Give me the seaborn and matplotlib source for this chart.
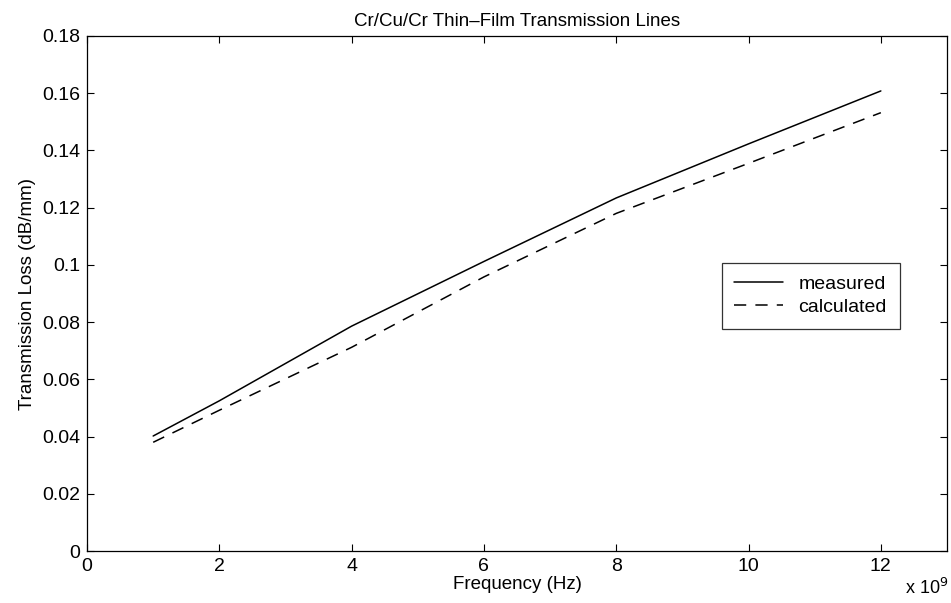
import pandas as pd
import numpy as np
import matplotlib
matplotlib.use('Agg')
import matplotlib.pyplot as plt
import seaborn as sns

# Data (frequency in units of 1e9 Hz)
freq = [1, 2, 4, 6, 8, 10, 12]
measured = [0.0402, 0.0525, 0.0786, 0.1012, 0.1234, 0.1423, 0.1608]
calculated = [0.0380, 0.0492, 0.0712, 0.0958, 0.1180, 0.1355, 0.1532]

df = pd.concat([
    pd.DataFrame({'Frequency': freq, 'Loss': measured, 'Series': 'measured'}),
    pd.DataFrame({'Frequency': freq, 'Loss': calculated, 'Series': 'calculated'}),
])

sns.set_style('ticks', {'text.color': 'black', 'axes.labelcolor': 'black',
                        'xtick.color': 'black', 'ytick.color': 'black'})
plt.rcParams['font.family'] = ['Liberation Sans', 'DejaVu Sans']

fig = plt.figure(figsize=(9.51, 6.03), dpi=100)
ax = fig.add_axes([0.0915, 0.0862, 0.9043, 0.8541])

sns.lineplot(data=df, x='Frequency', y='Loss', style='Series',
             dashes={'measured': '', 'calculated': (8, 6)},
             color='black', linewidth=1.1, ax=ax)

ax.set_xlim(0, 13)
ax.set_ylim(0, 0.18)
ax.set_xticks(np.arange(0, 13, 2))
ax.set_yticks(np.arange(0, 0.19, 0.02))
ax.set_yticklabels(['0', '0.02', '0.04', '0.06', '0.08', '0.1', '0.12',
                    '0.14', '0.16', '0.18'])
ax.tick_params(direction='in', top=True, right=True, labelsize=14,
               length=5, width=0.8, colors='black', pad=5)
for s in ax.spines.values():
    s.set_linewidth(0.9)
    s.set_color('black')

ax.set_title('Cr/Cu/Cr Thin\u2013Film Transmission Lines', fontsize=13.5,
             pad=7, color='black')
ax.set_xlabel('Frequency (Hz)', fontsize=13.5, labelpad=1, color='black')
ax.set_ylabel('Transmission Loss (dB/mm)', fontsize=13.5, labelpad=4,
              color='black')
fig.text(0.997, 0.008, r'x 10$^{9}$', fontsize=13, ha='right', va='bottom')

leg = ax.legend(loc='upper left', bbox_to_anchor=(0.738, 0.560),
                fontsize=14, frameon=True, fancybox=False,
                handlelength=2.5, borderpad=0.65, labelspacing=0.3,
                handletextpad=0.8, borderaxespad=0)
leg.get_frame().set_edgecolor('black')
leg.get_frame().set_linewidth(0.9)
leg.set_title(None)

fig.savefig('out.png', dpi=100)
